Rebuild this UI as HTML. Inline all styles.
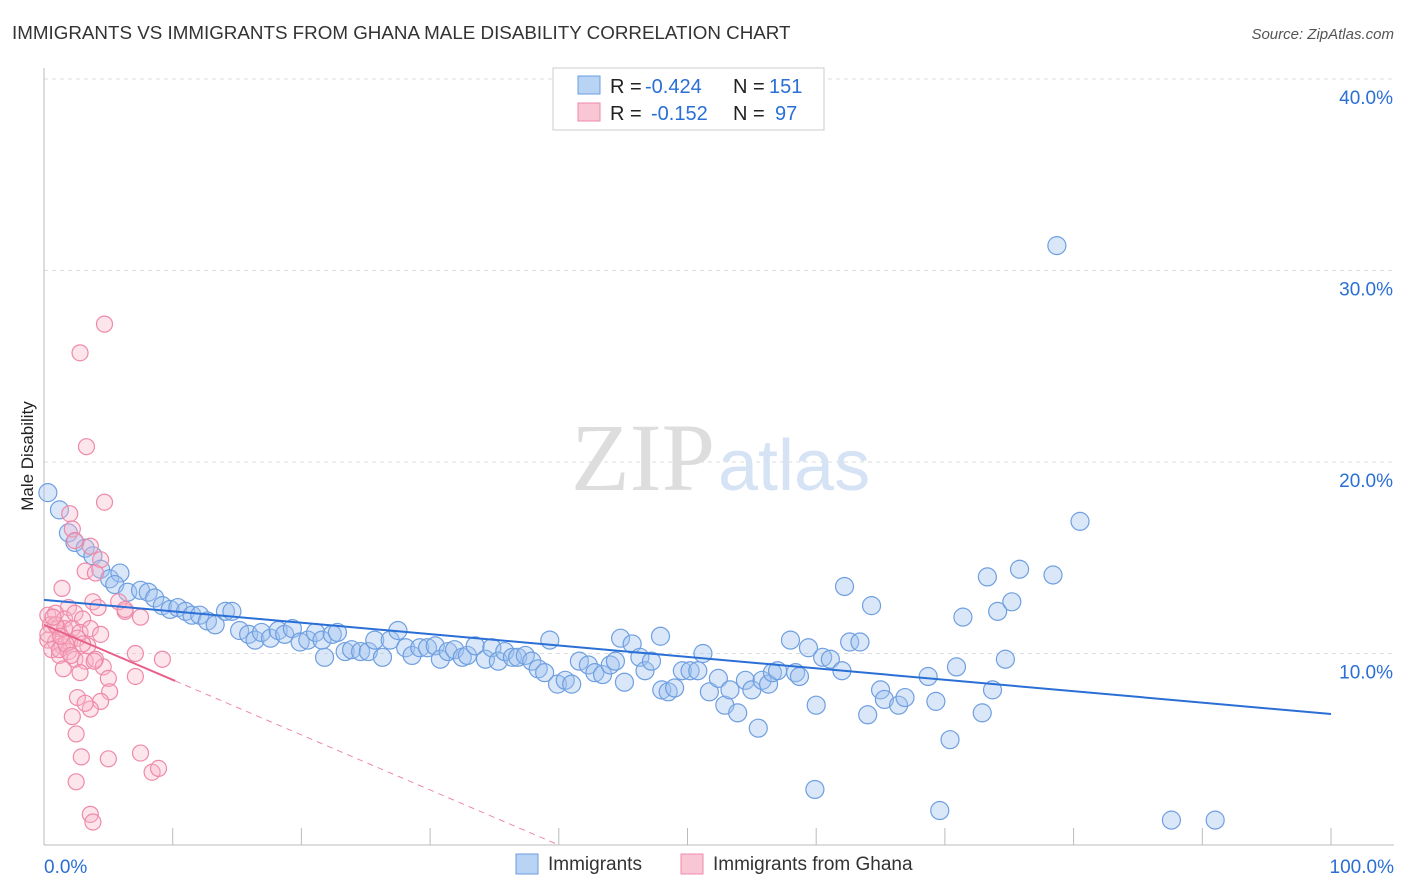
<!DOCTYPE html>
<html><head><meta charset="utf-8"><style>
body{margin:0;background:#fff;font-family:"Liberation Sans",sans-serif}
svg{display:block}
</style></head><body>
<svg id="chart" width="1406" height="892">
<text x="12" y="39" font-size="18.8" fill="#333">IMMIGRANTS VS IMMIGRANTS FROM GHANA MALE DISABILITY CORRELATION CHART</text>
<text x="1394" y="39" font-size="15" fill="#555" font-style="italic" text-anchor="end">Source: ZipAtlas.com</text>
<text x="33" y="456" font-size="17" fill="#222" text-anchor="middle" transform="rotate(-90 33 456)">Male Disability</text>
<g id="grid"></g>
<text x="715" y="490" font-size="96" fill="#ddd" font-family="Liberation Serif,serif" text-anchor="end">ZIP</text>
<text x="718" y="490" font-size="72" fill="#d6e3f5">atlas</text>
<g id="pts"></g>
<g id="trend"></g>
<g>
<rect x="553" y="68" width="271" height="62" fill="#fff" stroke="#ccc"/>
<rect x="578" y="76" width="22" height="18" fill="#b9d3f5" stroke="#6a9de0"/>
<rect x="578" y="103" width="22" height="18" fill="#f9c6d6" stroke="#ee8aa9"/>
<g font-size="20" fill="#222">
<text x="610" y="93">R =</text><text x="645" y="93" fill="#2a6fd6">-0.424</text><text x="733" y="93">N =</text><text x="769" y="93" fill="#2a6fd6">151</text>
<text x="610" y="120">R =</text><text x="651" y="120" fill="#2a6fd6">-0.152</text><text x="733" y="120">N =</text><text x="775" y="120" fill="#2a6fd6">97</text>
</g>
</g>
<g>
<rect x="516" y="854" width="22" height="20" fill="#b9d3f5" stroke="#6a9de0"/>
<text x="548" y="870" font-size="19" fill="#333">Immigrants</text>
<rect x="681" y="854" width="22" height="20" fill="#f9c6d6" stroke="#ee8aa9"/>
<text x="713" y="870" font-size="19" fill="#333">Immigrants from Ghana</text>
</g>
</svg>
<script>
const yTicks=[10,20,30,40];
const xTickLabels=["0.0%","100.0%"];
const blueX=[0.3,1.2,1.9,2.4,3.2,3.8,4.4,5.1,5.9,5.5,6.5,7.5,8.1,8.6,9.2,9.8,10.4,11.0,11.5,12.1,12.7,13.3,14.1,14.6,15.2,15.9,16.4,16.9,17.6,18.2,18.7,19.3,19.9,20.5,21.1,21.6,22.4,22.8,21.8,23.4,23.9,24.6,25.2,25.7,26.3,26.9,27.5,28.1,28.6,29.2,29.8,30.4,30.8,31.4,31.9,32.5,32.9,33.5,34.3,34.8,35.3,35.8,36.4,36.8,37.4,37.9,38.4,38.9,39.3,39.9,40.5,41.0,41.6,42.3,42.8,43.4,44.0,44.4,44.8,45.1,45.7,46.3,46.7,47.2,47.9,48.0,48.5,49.0,49.6,50.2,50.8,51.2,51.7,52.4,52.9,53.3,53.9,54.5,55.0,55.5,55.8,56.3,56.6,57.0,58.0,58.4,58.7,59.4,60.0,60.5,61.1,62.0,62.2,62.6,63.4,64.0,64.3,65.0,65.3,66.4,66.9,68.7,69.3,70.4,70.9,71.4,72.9,73.3,73.7,74.1,74.7,75.2,75.8,78.4,78.7,80.5,59.9,69.6,87.6,91.0];
const blueY=[18.4,17.5,16.3,15.8,15.5,15.1,14.4,13.9,14.2,13.6,13.2,13.3,13.2,12.9,12.5,12.3,12.4,12.2,12.0,12.0,11.7,11.5,12.2,12.2,11.2,11.0,10.7,11.1,10.8,11.2,11.0,11.3,10.6,10.7,11.1,10.7,11.0,11.1,9.8,10.1,10.2,10.1,10.1,10.7,9.8,10.7,11.2,10.3,9.9,10.3,10.3,10.4,9.7,10.1,10.2,9.8,9.9,10.4,9.7,10.3,9.6,10.1,9.8,9.8,9.9,9.6,9.2,9.0,10.7,8.4,8.6,8.4,9.6,9.4,9.0,8.9,9.4,9.6,10.8,8.5,10.5,9.8,9.1,9.6,10.9,8.1,8.0,8.2,9.1,9.1,9.1,10.0,8.0,8.7,7.3,8.1,6.9,8.6,8.1,6.1,8.6,8.4,9.0,9.1,10.7,9.0,8.8,10.3,7.3,9.8,9.7,9.1,13.5,10.6,10.6,6.8,12.5,8.1,7.6,7.3,7.7,8.8,7.5,5.5,9.3,11.9,6.9,14.0,8.1,12.2,9.7,12.7,14.4,14.1,31.3,16.9,2.9,1.8,1.3,1.3];
const pinkX=[4.7,2.8,3.3,4.7,2,2.2,2.4,3.6,4.4,3.2,4,1.4,3.8,4.2,1.9,0.3,0.9,1.6,2.4,3,0.5,1.1,1.6,2.2,2.8,3.6,4.4,0.3,0.9,1.4,2,2.6,3.4,0.6,1.2,1.9,2.4,3.2,4,4.6,1.5,2.8,5,7.1,9.2,6.3,7.5,5.8,5.1,2.6,4.4,3.6,3.2,2.2,2.5,2.9,5,7.5,8.4,8.9,2.5,3.6,3.8,7.1,6.3,1.2,0.3,0.9,1.7,0.7,1.3,2.1,3,3.9];
const pinkY=[27.2,25.7,20.8,17.9,17.3,16.5,15.9,15.6,14.9,14.3,14.2,13.4,12.7,12.4,12.4,12,12.1,11.8,12.1,11.8,11.5,11.3,11.3,11.3,11.1,11.3,11,10.7,10.6,10.4,10.6,10.8,10.4,10.2,9.9,10.1,9.7,9.6,9.7,9.3,9.2,9,8.7,8.8,9.7,12.2,11.9,12.7,8,7.7,7.5,7.1,7.4,6.7,5.8,4.6,4.5,4.8,3.8,4,3.3,1.6,1.2,10,12.3,10.2,11,11.5,10.5,11.9,10.9,9.9,10.5,9.6];
const blueTrend=[12.8,6.84];
const pinkTrend=[11.5,-0.2875];
const X0=44,X1=1331,Y0=845,YPX=19.15;
const sx=v=>X0+(X1-X0)*v/100, sy=v=>Y0-v*YPX;
const NS="http://www.w3.org/2000/svg";
function mk(tag,attrs,parent){const e=document.createElementNS(NS,tag);for(const k in attrs)e.setAttribute(k,attrs[k]);parent.appendChild(e);return e;}
const grid=document.getElementById('grid');
yTicks.forEach(t=>{
 const l=mk('line',{x1:44,x2:1394,y1:sy(t),y2:sy(t),stroke:'#ddd','stroke-dasharray':'4,4'},grid);
 
 
 const tx=mk('text',{x:1393,y:sy(t)+25,'font-size':19,fill:'#2a6fd6','text-anchor':'end'},grid);
 tx.textContent=t.toFixed(1)+'%';
 
 
});
const ax=mk('line',{x1:44,x2:44,y1:68,y2:845,stroke:'#bbb'},grid);


const bx=mk('line',{x1:44,x2:1394,y1:845,y2:845,stroke:'#bbb'},grid);


for(let i=0;i<=10;i++){const t=mk('line',{x1:sx(i*10),x2:sx(i*10),y1:828,y2:845,stroke:'#bbb'},grid);
 
 }
[[0,'start',44],[100,'end',1394]].forEach((d,i)=>{const t=mk('text',{x:d[2],y:873,'font-size':19,fill:'#2a6fd6','text-anchor':d[1]},grid);t.textContent=xTickLabels[i];
 
 });
const pts=document.getElementById('pts');
blueX.forEach((x,i)=>{const c=mk('circle',{cx:sx(x),cy:sy(blueY[i]),r:9,fill:'rgba(160,196,240,0.4)',stroke:'#6f9fe0','stroke-width':1.2},pts);
 
 });
pinkX.forEach((x,i)=>{const c=mk('circle',{cx:sx(x),cy:sy(pinkY[i]),r:8,fill:'rgba(248,180,200,0.35)',stroke:'#ee8aa9','stroke-width':1.2},pts);
 
 });
const tr=document.getElementById('trend');
const bl=mk('line',{x1:sx(0),y1:sy(blueTrend[0]),x2:sx(100),y2:sy(blueTrend[1]),stroke:'#2a6fd6','stroke-width':2},tr);


const pe=-pinkTrend[0]/pinkTrend[1];
const pd=mk('line',{x1:sx(10.2),y1:sy(pinkTrend[0]+pinkTrend[1]*10.2),x2:sx(pe),y2:sy(0),stroke:'#ee8aa9','stroke-width':1,'stroke-dasharray':'6,5'},tr);


const pl=mk('line',{x1:sx(0),y1:sy(pinkTrend[0]),x2:sx(10.2),y2:sy(pinkTrend[0]+pinkTrend[1]*10.2),stroke:'#e8608a','stroke-width':2},tr);


</script>
</body></html>
